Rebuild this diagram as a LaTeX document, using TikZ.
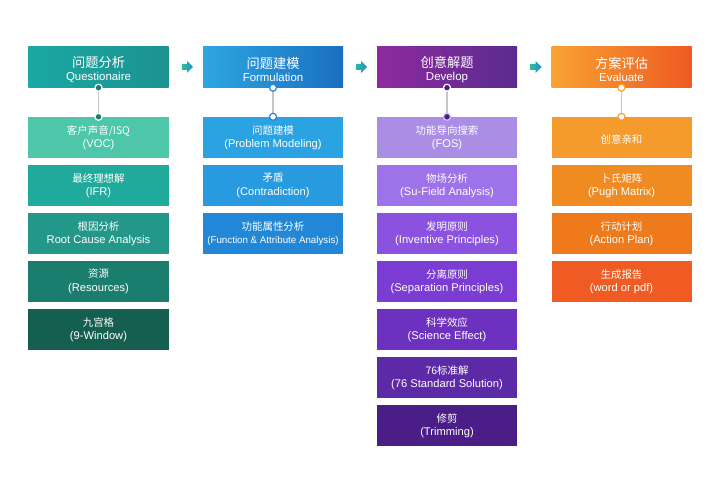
\documentclass[tikz,border=0pt]{standalone}
\usepackage{fontspec}
\setmainfont{Liberation Sans}
\newfontfamily\cjk{Noto Sans CJK SC}
\definecolor{tA}{HTML}{1AA8A4}\definecolor{tB}{HTML}{1C9290}
\definecolor{t1}{HTML}{4DC6A9}\definecolor{t2}{HTML}{1FAA9C}\definecolor{t3}{HTML}{23978A}
\definecolor{t4}{HTML}{1B7D6D}\definecolor{t5}{HTML}{145F50}
\definecolor{bA}{HTML}{2DA6E2}\definecolor{bB}{HTML}{1A6FC0}
\definecolor{b1}{HTML}{2BA2E2}\definecolor{b2}{HTML}{279AE0}\definecolor{b3}{HTML}{2287D6}
\definecolor{pA}{HTML}{8E2A9E}\definecolor{pB}{HTML}{5A2B90}
\definecolor{p1}{HTML}{AA8EE6}\definecolor{p2}{HTML}{9E72E8}\definecolor{p3}{HTML}{8B52E0}
\definecolor{p4}{HTML}{7A3CD2}\definecolor{p5}{HTML}{6D31C0}\definecolor{p6}{HTML}{5C2AA6}\definecolor{p7}{HTML}{4A1E86}
\definecolor{oA}{HTML}{F8A332}\definecolor{oB}{HTML}{EE5A22}
\definecolor{o1}{HTML}{F59B2B}\definecolor{o2}{HTML}{F08B22}\definecolor{o3}{HTML}{EE7A1C}\definecolor{o4}{HTML}{EF5B22}
\definecolor{arr}{HTML}{35AEC0}
\tikzset{
  box/.style={minimum width=140bp, minimum height=41bp, inner sep=0pt, text=white, align=center, font=\fontsize{11.2}{13.5}\selectfont},
  head/.style={box, font=\fontsize{11.5}{13}\selectfont},
  conn/.style={draw=gray!45, line width=1.3bp},
  dot/.style={circle, minimum size=7bp, inner sep=0pt, line width=1.2bp},
}
\newcommand{\hd}[2]{\rule{0pt}{16bp}{\cjk\fontsize{13.3}{16}\selectfont #1}\\#2}
\newcommand{\zh}[1]{{\cjk\fontsize{10.5}{13.5}\selectfont #1}}
\begin{document}
\begin{tikzpicture}[x=1bp,y=-1bp]
\useasboundingbox (0,0) rectangle (720,490);
\fill[white] (0,0) rectangle (720,490);
% headers
\node[head, left color=tA, right color=tB] (h1) at (98.5,67) {\hd{问题分析}{Questionaire}};
\node[head, left color=bA, right color=bB] (h2) at (273,67) {\hd{问题建模}{Formulation}};
\node[head, left color=pA, right color=pB] (h3) at (447,67) {\hd{创意解题}{Develop}};
\node[head, left color=oA, right color=oB] (h4) at (621.5,67) {\hd{方案评估}{Evaluate}};
% column 1
\node[box, fill=t1] (a1) at (98.5,137.5) {\zh{客户声音/ISQ}\\(VOC)};
\node[box, fill=t2] (a2) at (98.5,185.5) {\zh{最终理想解}\\(IFR)};
\node[box, fill=t3] (a3) at (98.5,233.5) {\zh{根因分析}\\Root Cause Analysis};
\node[box, fill=t4] (a4) at (98.5,281.5) {\zh{资源}\\(Resources)};
\node[box, fill=t5] (a5) at (98.5,329.5) {\zh{九宫格}\\(9-Window)};
% column 2
\node[box, fill=b1] (b1n) at (273,137.5) {\zh{问题建模}\\(Problem Modeling)};
\node[box, fill=b2] (b2n) at (273,185.5) {\zh{矛盾}\\(Contradiction)};
\node[box, fill=b3, font=\fontsize{9.8}{13.5}\selectfont] (b3n) at (273,233.5) {\zh{功能属性分析}\\(Function \& Attribute Analysis)};
% column 3
\node[box, fill=p1] (c1) at (447,137.5) {\zh{功能导向搜索}\\(FOS)};
\node[box, fill=p2] (c2) at (447,185.5) {\zh{物场分析}\\(Su-Field Analysis)};
\node[box, fill=p3] (c3) at (447,233.5) {\zh{发明原则}\\(Inventive Principles)};
\node[box, fill=p4] (c4) at (447,281.5) {\zh{分离原则}\\(Separation Principles)};
\node[box, fill=p5] (c5) at (447,329.5) {\zh{科学效应}\\(Science Effect)};
\node[box, fill=p6] (c6) at (447,377.5) {\zh{76标准解}\\(76 Standard Solution)};
\node[box, fill=p7] (c7) at (447,425.5) {\zh{修剪}\\(Trimming)};
% column 4
\node[box, fill=o1, text height=14bp, text depth=1.5bp] (d1) at (621.5,137.5) {\zh{创意亲和}};
\node[box, fill=o2] (d2) at (621.5,185.5) {\zh{卜氏矩阵}\\(Pugh Matrix)};
\node[box, fill=o3] (d3) at (621.5,233.5) {\zh{行动计划}\\(Action Plan)};
\node[box, fill=o4] (d4) at (621.5,281.5) {\zh{生成报告}\\(word or pdf)};
% connectors
\draw[conn] (h1.south) -- (a1.north);
\draw[conn] (h2.south) -- (b1n.north);
\draw[conn] (h3.south) -- (c1.north);
\draw[conn] (h4.south) -- (d1.north);
\node[dot, draw=white, fill=t4] (k1) at (h1.south) {};
\node[dot, draw=white, fill=t4] (k2) at (a1.north) {};
\node[dot, draw=b3, fill=white] (k3) at (h2.south) {};
\node[dot, draw=b3, fill=white] (k4) at (b1n.north) {};
\node[dot, draw=white, fill=p7] (k5) at (h3.south) {};
\node[dot, draw=p1!50!white, fill=p7] (k6) at (c1.north) {};
\node[dot, draw=oA, fill=white] (k7) at (h4.south) {};
\node[dot, draw=oA, fill=white] (k8) at (d1.north) {};
% arrows between headers
\foreach \x in {187,361,535.5}{
  \shade[left color=arr!80!green, right color=arr!80!blue] (\x-5,64) -- (\x,64) -- (\x,61) -- (\x+6,67) -- (\x,73) -- (\x,70) -- (\x-5,70) -- cycle;
}
\end{tikzpicture}
\end{document}
